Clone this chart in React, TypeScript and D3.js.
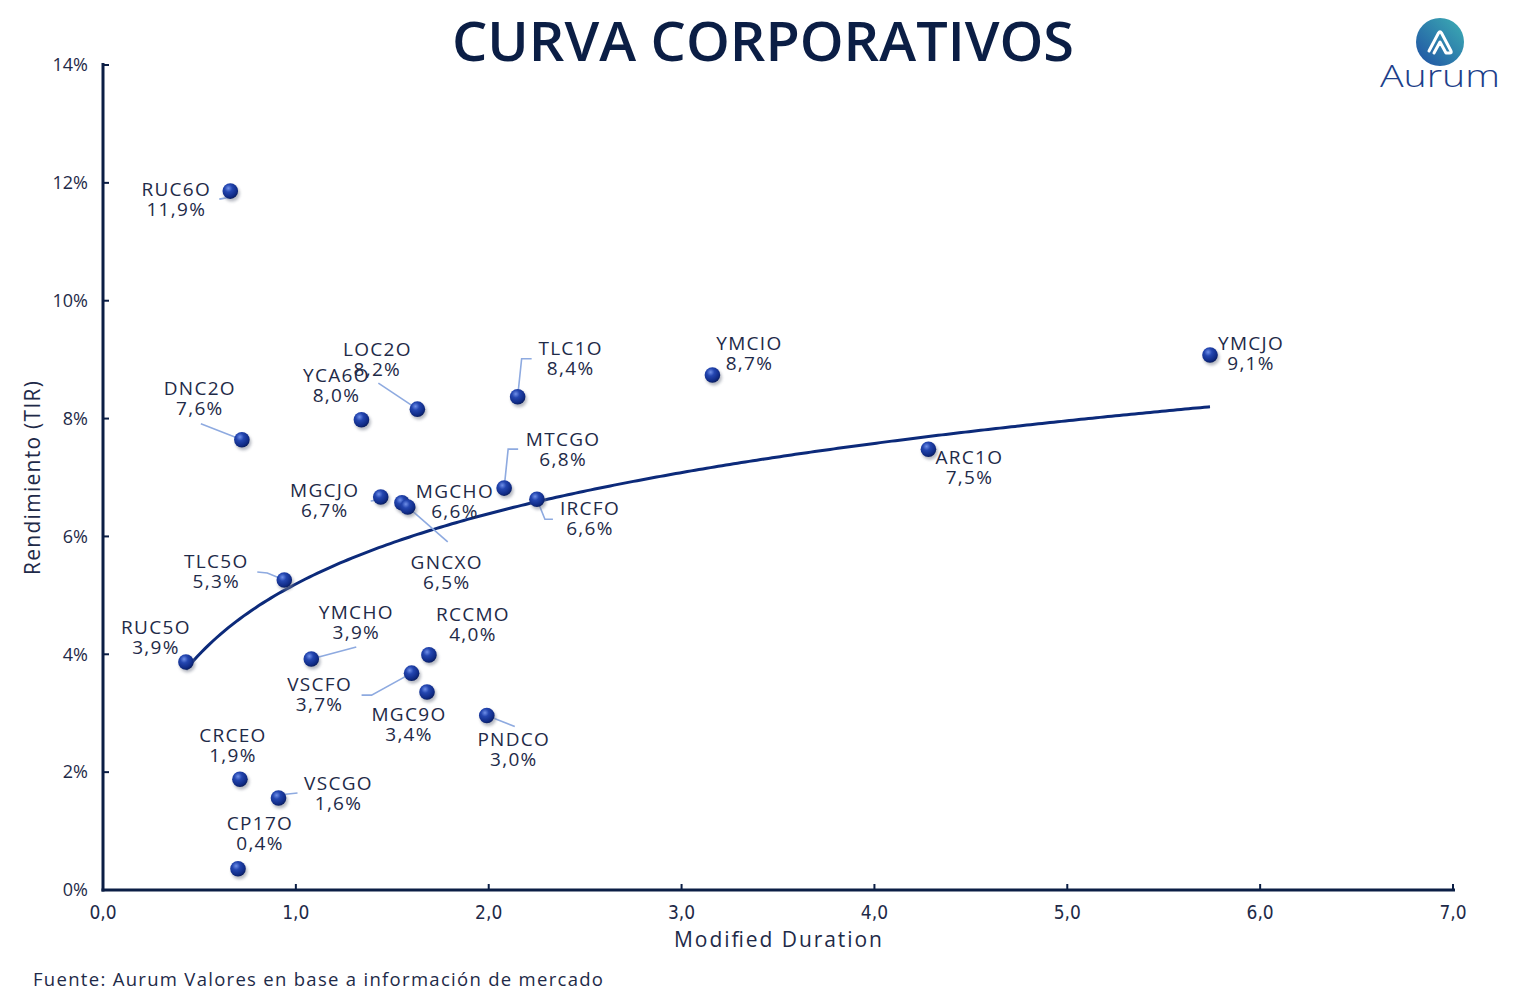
import React from 'react';
import * as d3 from 'd3';

// Corporate bonds: modified duration vs. yield (TIR)
const names = ['RUC6O', 'DNC2O', 'YCA6O', 'LOC2O', 'TLC1O', 'YMCIO', 'YMCJO', 'ARC1O', 'MTCGO', 'IRCFO', 'MGCJO', 'MGCHO', 'GNCXO', 'TLC5O', 'RUC5O', 'YMCHO', 'RCCMO', 'VSCFO', 'MGC9O', 'PNDCO', 'CRCEO', 'VSCGO', 'CP17O'];
const duration = [0.66, 0.72, 1.34, 1.63, 2.15, 3.16, 5.74, 4.28, 2.08, 2.25, 1.44, 1.55, 1.58, 0.94, 0.43, 1.08, 1.69, 1.6, 1.68, 1.99, 0.71, 0.91, 0.7];
const yields = [11.86, 7.64, 7.98, 8.16, 8.37, 8.74, 9.08, 7.48, 6.82, 6.63, 6.67, 6.57, 6.5, 5.26, 3.87, 3.92, 3.99, 3.68, 3.36, 2.96, 1.88, 1.56, 0.36];

const yTicks = [0, 2, 4, 6, 8, 10, 12, 14];
const xTicks = [0, 1, 2, 3, 4, 5, 6, 7];

// logarithmic trend: y = a + b ln(x)
const trendA = 5.193;
const trendB = 1.721;

// label placement (px offset of the name line from the dot) and leader lines
const labelOffset: Record<string, [number, number]> = {
  RUC6O: [-54, -2], DNC2O: [-42, -51], YCA6O: [-25, -44], LOC2O: [-40, -60],
  TLC1O: [53, -48], YMCIO: [37, -32], YMCJO: [41, -12], ARC1O: [41, 8],
  MTCGO: [59, -49], IRCFO: [53, 9], MGCJO: [-56, -7], MGCHO: [53, -11],
  GNCXO: [39, 55], TLC5O: [-68, -19], RUC5O: [-30, -35], YMCHO: [45, -47],
  RCCMO: [44, -41], VSCFO: [-92, 11], MGC9O: [-18, 22], PNDCO: [27, 24],
  CRCEO: [-7, -44], VSCGO: [60, -15], CP17O: [22, -45],
};
const leaders: Record<string, [number, number][]> = {
  RUC6O: [[-11, 8], [0, 6]],
  DNC2O: [[-41, -16], [0, 0]],
  LOC2O: [[-39, -26], [0, 0]],
  TLC1O: [[14, -38], [4, -38], [0, 0]],
  MTCGO: [[14, -39], [4, -39], [0, 0]],
  IRCFO: [[0, 0], [8, 20], [16, 20]],
  MGCJO: [[-10, 4], [-2, 3]],
  GNCXO: [[40, 35], [0, 0]],
  TLC5O: [[-27, -8], [-17, -7], [0, 0]],
  YMCHO: [[45, -12], [0, 0]],
  VSCFO: [[-50, 22], [-40, 22], [0, 0]],
  PNDCO: [[0, 0], [28, 11]],
  VSCGO: [[0, -3], [19, -5]],
};

const W = 1527;
const H = 997;
const navy = '#0b1e45';
const textColor = '#1e2a48';
const font = "'Open Sans', 'Noto Sans', sans-serif";
const narrow = "'Liberation Sans Narrow', 'DejaVu Sans Condensed', sans-serif";

const fmt = (v: number) => v.toFixed(1).replace('.', ',');

export default function App() {
  const x = d3.scaleLinear().domain([0, 7]).range([103, 1453]);
  const y = d3.scaleLinear().domain([0, 14]).range([890, 65]);

  const [xMin, xMax] = d3.extent(duration) as [number, number];
  const trendX = d3.range(xMin, xMax, 0.02).concat([xMax]);
  const trendPath = d3.line<number>()
    .x(d => x(d))
    .y(d => y(trendA + trendB * Math.log(d)))(trendX);

  const leaderLine = d3.line<[number, number]>();

  return (
    <svg width={W} height={H} style={{ position: 'absolute', left: 0, top: 0, background: '#fff' }}>
      <defs>
        <radialGradient id="ball" cx="0.38" cy="0.32" r="0.7">
          <stop offset="0" stopColor="#6f8fe8" />
          <stop offset="0.35" stopColor="#2446b0" />
          <stop offset="0.8" stopColor="#102b86" />
          <stop offset="1" stopColor="#0a1d5e" />
        </radialGradient>
        <filter id="shadow" x="-50%" y="-50%" width="200%" height="200%">
          <feGaussianBlur stdDeviation="1.8" />
        </filter>
        <linearGradient id="logo" x1="0" y1="1" x2="1" y2="0">
          <stop offset="0" stopColor="#1f4fa3" />
          <stop offset="1" stopColor="#3db0b4" />
        </linearGradient>
      </defs>

      {/* title */}
      <text x={763} y={61} textAnchor="middle" fontFamily={font} fontSize={54} fontWeight={600}
        fill={navy} textLength={622} lengthAdjust="spacingAndGlyphs">CURVA CORPORATIVOS</text>

      {/* logo */}
      <g transform="translate(1440,42)">
        <circle r={24} fill="url(#logo)" />
        <path d="M-11,9 L-1.5,-9 Q0,-11.5 1.5,-9 L11,9 Q12,11 9.5,11 L6,11 L0,0 L-6,11"
          fill="none" stroke="#fff" strokeWidth={3} strokeLinejoin="round" strokeLinecap="round" />
      </g>
      <text x={1440} y={87} textAnchor="middle" fontFamily={font} fontSize={31} fontWeight={300} fill="#1d3f8a"
        textLength={120} lengthAdjust="spacingAndGlyphs">Aurum</text>

      {/* axes */}
      <line x1={x(0)} x2={x(0)} y1={y(14) - 2} y2={y(0) + 1.5} stroke={navy} strokeWidth={3} />
      <line x1={x(0) - 1.5} x2={1455} y1={y(0)} y2={y(0)} stroke={navy} strokeWidth={3} />
      {yTicks.map(t => (
        <g key={`y${t}`}>
          <line x1={x(0)} x2={x(0) + 6} y1={y(t)} y2={y(t)} stroke={navy} strokeWidth={2} />
          <text x={88} y={y(t)} dy="0.35em" textAnchor="end" fontFamily={font} fontSize={18}
            fill={textColor}>{`${t}%`}</text>
        </g>
      ))}
      {xTicks.map(t => (
        <g key={`x${t}`}>
          <line x1={x(t)} x2={x(t)} y1={y(0)} y2={y(0) - 6} stroke={navy} strokeWidth={2} />
          <text x={x(t)} y={912} dy="0.35em" textAnchor="middle" fontFamily={narrow} fontSize={19}
            fill={textColor}>{fmt(t)}</text>
        </g>
      ))}
      <text x={778} y={947} textAnchor="middle" fontFamily={font} fontSize={21}
        textLength={208} lengthAdjust="spacing" fill={textColor}>Modified Duration</text>
      <text transform="translate(40,478) rotate(-90)" textAnchor="middle" fontFamily={font} fontSize={21}
        textLength={194} lengthAdjust="spacing" fill={textColor}>Rendimiento (TIR)</text>

      {/* trend */}
      <path d={trendPath ?? ''} fill="none" stroke="#0c2a7a" strokeWidth={3} />

      {/* leader lines */}
      {names.map((n, i) => leaders[n] ? (
        <path key={`l${n}`} transform={`translate(${x(duration[i])},${y(yields[i])})`}
          d={leaderLine(leaders[n]) ?? ''} fill="none" stroke="#8eaae0" strokeWidth={1.6} />
      ) : null)}

      {/* points */}
      {names.map((n, i) => (
        <g key={`p${n}`} transform={`translate(${x(duration[i])},${y(yields[i])})`}>
          <circle cx={1.5} cy={2.5} r={8} fill="#7a8090" opacity={0.55} filter="url(#shadow)" />
          <circle r={7.8} fill="url(#ball)" />
        </g>
      ))}

      {/* labels */}
      {names.map((n, i) => {
        const [dx, dy] = labelOffset[n];
        const cx = x(duration[i]) + dx;
        const cy = y(yields[i]) + dy;
        return (
          <g key={`t${n}`} fontFamily={font} fontSize={19} fill={textColor} textAnchor="middle" letterSpacing={1.3}>
            <text x={cx} y={cy} dy="0.35em">{n}</text>
            <text x={cx} y={cy + 20} dy="0.35em">{`${fmt(yields[i])}%`}</text>
          </g>
        );
      })}

      <text x={33} y={986} fontFamily={font} fontSize={18.5} textLength={570} lengthAdjust="spacing" fill={textColor}>
        Fuente: Aurum Valores en base a información de mercado
      </text>
    </svg>
  );
}
